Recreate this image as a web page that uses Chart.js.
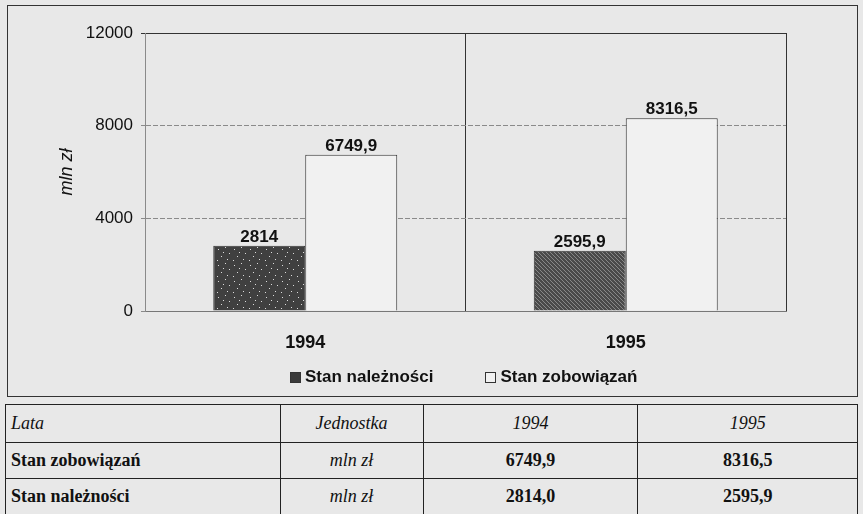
<!DOCTYPE html>
<html>
<head>
<meta charset="utf-8">
<script src="https://cdn.jsdelivr.net/npm/chart.js@4.4.1/dist/chart.umd.min.js"></script>
<style>
  body { margin: 0; width: 863px; height: 514px; overflow: hidden; background: #e8e8e8; position: relative; }
  #box { position: absolute; left: 7px; top: 5px; width: 849px; height: 390px; border: 1px solid #333; }
  #chart { display: block; }
  #legend { position: absolute; left: 290px; top: 367px; display: flex; align-items: center;
            font: bold 17px Arial, "Liberation Sans", sans-serif; color: #111; }
  #legend span.item { display: flex; align-items: center; margin-right: 52px; }
  #legend i { display: inline-block; width: 9px; height: 9px; margin-right: 4px; border: 1px solid #333; }
  table { position: absolute; left: 5px; top: 404px; width: 853px; border-collapse: collapse;
          font-family: "Liberation Serif", "Times New Roman", serif; font-size: 18px; color: #111; }
  td { border: 1px solid #222; padding: 0 5px; }
  tr.head td { font-style: italic; height: 37px; }
  tr.row td { height: 35px; }
  td.c { text-align: center; }
  td.unit { font-style: italic; text-align: center; }
  td.b { font-weight: bold; }
</style>
</head>
<body>
<div id="box"><canvas id="chart" width="849" height="390"></canvas></div>
<div id="legend"></div>
<table id="tbl"></table>
<script>
const years = ['1994', '1995'];
const naleznosci = [2814, 2595.9];
const zobowiazania = [6749.9, 8316.5];
const yTicks = [0, 4000, 8000, 12000];
const seriesNames = ['Stan należności', 'Stan zobowiązań'];
const unit = 'mln zł';

const FONT = 'Arial, "Liberation Sans", sans-serif';

function fmt(v) {
    return String(v).replace('.', ',');
}

// dark bar with light specks (1994)
function speckle() {
    const c = document.createElement('canvas');
    c.width = c.height = 16;
    const g = c.getContext('2d');
    g.fillStyle = '#404040';
    g.fillRect(0, 0, 16, 16);
    g.fillStyle = '#dcdcdc';
    [[2, 3], [9, 1], [13, 7], [5, 10], [11, 13], [1, 14], [7, 6]].forEach(p => g.fillRect(p[0], p[1], 1, 1));
    return g.createPattern(c, 'repeat');
}

// crosshatch bar (1995)
function hatch() {
    const c = document.createElement('canvas');
    c.width = c.height = 4;
    const g = c.getContext('2d');
    g.fillStyle = '#4a4a4a';
    g.fillRect(0, 0, 4, 4);
    g.fillStyle = '#888';
    g.fillRect(0, 0, 1, 1);
    g.fillRect(1, 1, 1, 1);
    g.fillRect(2, 2, 1, 1);
    g.fillRect(3, 3, 1, 1);
    return g.createPattern(c, 'repeat');
}

const valueLabels = {
    id: 'valueLabels',
    afterDatasetsDraw(chart) {
        const ctx = chart.ctx;
        ctx.save();
        ctx.font = 'bold 17px ' + FONT;
        ctx.fillStyle = '#111';
        ctx.textAlign = 'center';
        ctx.textBaseline = 'alphabetic';
        chart.data.datasets.forEach((ds, i) => {
            chart.getDatasetMeta(i).data.forEach((bar, j) => {
                ctx.fillText(fmt(ds.data[j]), bar.x, bar.y - 4);
            });
        });
        ctx.restore();
    }
};

new Chart(document.getElementById('chart').getContext('2d'), {
    type: 'bar',
    data: {
        labels: years,
        datasets: [{
            label: seriesNames[0],
            data: naleznosci,
            backgroundColor: [speckle(), hatch()],
            borderColor: '#333',
            borderWidth: 1
        }, {
            label: seriesNames[1],
            data: zobowiazania,
            backgroundColor: '#f1f1f1',
            borderColor: '#333',
            borderWidth: 1
        }]
    },
    options: {
        responsive: false,
        animation: false,
        events: [],
        layout: { padding: { left: 37, right: 71, top: 27, bottom: 35 } },
        datasets: { bar: { categoryPercentage: 0.574, barPercentage: 1 } },
        plugins: { legend: { display: false }, tooltip: { enabled: false } },
        scales: {
            x: {
                afterFit: s => { s.height = 50; },
                grid: {
                    offset: true,
                    drawTicks: false,
                    color: ctx => ctx.index === 0 ? '#8a8a8a' : '#333'
                },
                border: { color: '#777' },
                ticks: { padding: 21, color: '#111', font: { family: FONT, size: 18, weight: 'bold' } }
            },
            y: {
                min: yTicks[0],
                max: yTicks[yTicks.length - 1],
                afterFit: s => { s.width = 100; },
                afterBuildTicks: s => { s.ticks = yTicks.map(v => ({ value: v })); },
                grid: {
                    tickLength: 4,
                    color: ctx => ctx.tick && ctx.tick.value === 12000 ? '#333' : '#8a8a8a'
                },
                border: {
                    color: '#8a8a8a',
                    dash: ctx => ctx.tick && ctx.tick.value === 12000 ? [] : [5, 2]
                },
                ticks: {
                    padding: 8,
                    color: '#111',
                    font: { family: FONT, size: 17 },
                    callback: v => String(v)
                },
                title: {
                    display: true,
                    text: unit,
                    color: '#111',
                    padding: { top: 11, bottom: 0 },
                    font: { family: FONT, size: 18, style: 'italic' }
                }
            }
        }
    },
    plugins: [valueLabels]
});

// legend
const legend = document.getElementById('legend');
const swatches = ['#3a3a3a', '#f1f1f1'];
seriesNames.forEach((name, i) => {
    const item = document.createElement('span');
    item.className = 'item';
    item.innerHTML = `<i style="background:${swatches[i]}"></i>${name}`;
    legend.appendChild(item);
});

// table below the chart
const tbl = document.getElementById('tbl');
tbl.innerHTML = `
    <colgroup><col style="width:275px"><col style="width:143px"><col style="width:215px"><col style="width:220px"></colgroup>
    <tr class="head"><td>Lata</td><td class="c">Jednostka</td><td class="c">${years[0]}</td><td class="c">${years[1]}</td></tr>
    <tr class="row"><td class="b">${seriesNames[1]}</td><td class="unit">${unit}</td>
        <td class="c b">${fmt(zobowiazania[0].toFixed(1))}</td><td class="c b">${fmt(zobowiazania[1].toFixed(1))}</td></tr>
    <tr class="row"><td class="b">${seriesNames[0]}</td><td class="unit">${unit}</td>
        <td class="c b">${fmt(naleznosci[0].toFixed(1))}</td><td class="c b">${fmt(naleznosci[1].toFixed(1))}</td></tr>
`;
</script>
</body>
</html>
